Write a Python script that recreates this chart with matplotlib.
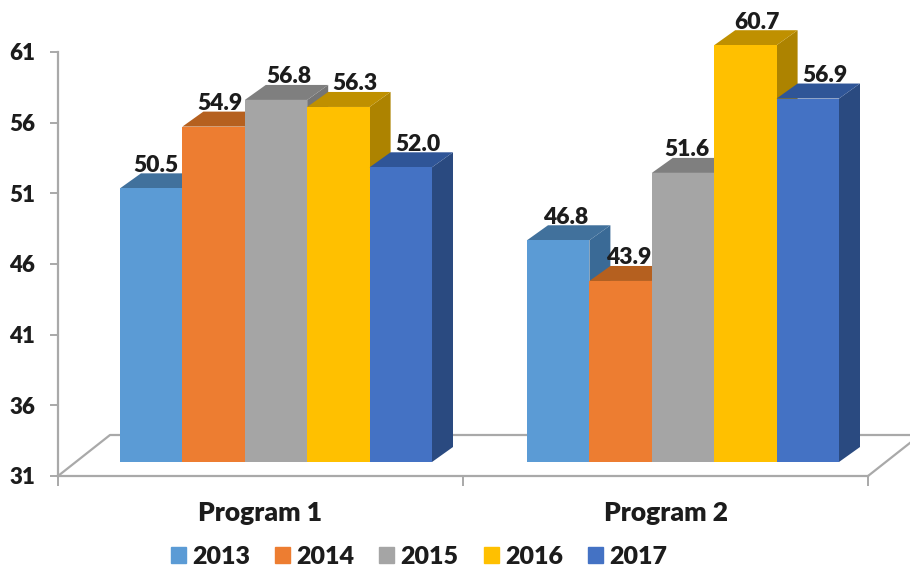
import matplotlib
matplotlib.use("Agg")
import matplotlib.pyplot as plt
from matplotlib.patches import Patch

plt.rcParams['font.family'] = ['Lato', 'DejaVu Sans']
plt.rcParams['font.weight'] = 'heavy'

programs = ['Program 1', 'Program 2']
years = ['2013', '2014', '2015', '2016', '2017']
values_2013 = [50.5, 46.8]
values_2014 = [54.9, 43.9]
values_2015 = [56.8, 51.6]
values_2016 = [56.3, 60.7]
values_2017 = [52.0, 56.9]
series = [values_2013, values_2014, values_2015, values_2016, values_2017]
y_ticks = [31, 36, 41, 46, 51, 56, 61]

front_colors = ['#5B9BD5', '#ED7D31', '#A5A5A5', '#FFC000', '#4472C4']
top_colors = ['#41719C', '#B5601F', '#7F7F7F', '#BF9000', '#2F5597']
side_colors = ['#3A6A96', '#A85A1D', '#757575', '#AD8300', '#2A4A80']
# сдвиг подписей вправо от центра столбца, пиксели (по программам)
label_shift = [(5, 7), (6, 8), (13, 4), (16, 12), (17, 17)]

W, H = 910, 572
text_color = '#1c1c1c'
axis_color = '#A9A9A9'


def axes_px(fig, left, top, right, bottom):
    # оси по пикселям картинки, y считается сверху
    return fig.add_axes([left / W, 1 - bottom / H, (right - left) / W, (bottom - top) / H])


fig = plt.figure(figsize=(W / 100, H / 100), dpi=100, facecolor='white')

# оси со шкалой и "полом"
ax = axes_px(fig, 58, 52, 868, 476)
ax.set_xlim(-0.5, 1.5)
ax.set_ylim(31, 61)
ax.patch.set_alpha(0)
for name in ['top', 'right']:
    ax.spines[name].set_visible(False)
for name in ['left', 'bottom']:
    ax.spines[name].set_color(axis_color)
    ax.spines[name].set_linewidth(1.6)
ax.set_yticks(y_ticks)
ax.tick_params(axis='y', length=6, width=1.4, color=axis_color, labelsize=16,
               labelcolor=text_color, pad=10.5)
ax.set_xticks([0, 1], programs)
ax.tick_params(axis='x', length=0, labelsize=19, labelcolor=text_color, pad=18)
ax.set_xticks([-0.5, 0.5, 1.5], minor=True)
ax.tick_params(axis='x', which='minor', length=7, width=1.4, color=axis_color)

# линии пола
fx, fy = 52 / 810, 41 / 424
ax.plot([0, fx, 1 + fx], [0, fy, fy], transform=ax.transAxes, color=axis_color,
        lw=1.6, clip_on=False)
ax.plot([1, 1 + fx], [0, fy], transform=ax.transAxes, color=axis_color,
        lw=1.6, clip_on=False)

# столбцы
bx = axes_px(fig, 72.5, 41, 886.5, 462)
bx.set_xlim(-0.5, 1.5)
bx.set_ylim(31, 61)
bx.axis('off')

width = 62.4 / 407
dx = 21 / 407
dy = 15 / (421 / 30)

for g in range(len(programs)):
    for i, vals in enumerate(series):
        v = vals[g]
        left = g + (i - 2.5) * width
        right = left + width
        bx.fill([right, right + dx, right + dx, right], [31, 31 + dy, v + dy, v],
                color=side_colors[i], lw=0, clip_on=False, zorder=2)
        bx.fill([left, left + dx, right + dx, right], [v, v + dy, v + dy, v],
                color=top_colors[i], lw=0, clip_on=False, zorder=2)
        bx.bar(left, v - 31, width, bottom=31, align='edge', color=front_colors[i],
               lw=0, clip_on=False, zorder=2)
        bx.annotate(f"{v:.1f}", (left + width / 2, v), xytext=(label_shift[i][g] * 0.72, 23 * 0.72),
                    textcoords='offset points', ha='center', va='center', fontsize=16.5,
                    color=text_color, annotation_clip=False, zorder=5)

handles = [Patch(color=c, label=y) for c, y in zip(front_colors, years)]
fig.legend(handles=handles, ncol=5, loc='center', bbox_to_anchor=(419 / W, 1 - 557 / H),
           frameon=False, fontsize=18, labelcolor=text_color, handlelength=0.6,
           handleheight=0.6, handletextpad=0.25, columnspacing=1.0)

fig.savefig('out.png', dpi=100)
